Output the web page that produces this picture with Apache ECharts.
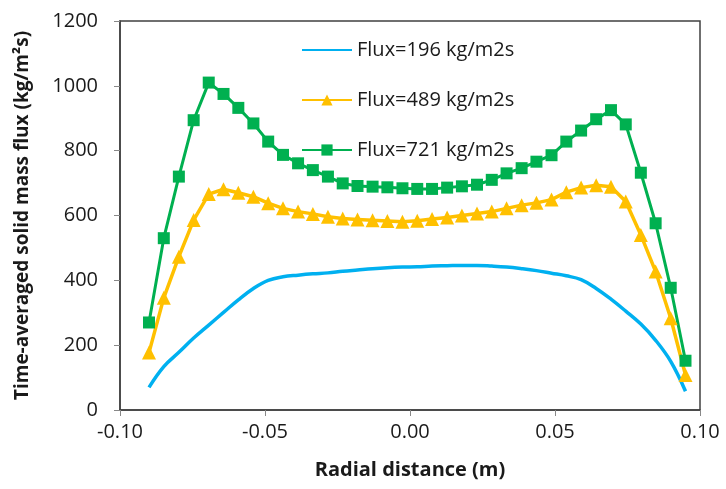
<!DOCTYPE html>
<html>
<head>
<meta charset="utf-8">
<script src="https://cdn.jsdelivr.net/npm/echarts@6/dist/echarts.min.js"></script>
<style>
  html, body { margin: 0; padding: 0; background: #fff; }
  #chart { width: 726px; height: 489px; }
</style>
</head>
<body>
<div id="chart"></div>
<script>
// Radial positions (m) across the riser
const radialPos = [
  -0.0900, -0.0849, -0.0797, -0.0746, -0.0694, -0.0643, -0.0592, -0.0540,
  -0.0489, -0.0438, -0.0386, -0.0335, -0.0283, -0.0232, -0.0181, -0.0129,
  -0.0078, -0.0026, 0.0025, 0.0076, 0.0128, 0.0179, 0.0231, 0.0282,
  0.0333, 0.0385, 0.0436, 0.0488, 0.0539, 0.0590, 0.0642, 0.0693,
  0.0744, 0.0796, 0.0847, 0.0899, 0.0950
];

// Time-averaged solid mass flux (kg/m2s) for each inlet flux
const flux196 = [
  70, 134, 178, 222, 262, 301, 340, 375,
  400, 411, 416, 420, 423, 428, 432, 436,
  439, 441, 442, 444, 445, 446, 446, 444,
  441, 436, 430, 422, 414, 402, 375, 342,
  305, 265, 215, 150, 58
];
const flux489 = [
  177, 346, 473, 586, 666, 681, 670, 658,
  638, 622, 612, 605, 596, 591, 588, 585,
  583, 581, 584, 589, 594, 600, 606, 612,
  622, 632, 639, 649, 672, 686, 693, 689,
  643, 540, 427, 283, 108
];
const flux721 = [
  270, 530, 720, 894, 1010, 975, 932, 884,
  828, 787, 761, 740, 720, 699, 691, 689,
  687, 684, 682, 682, 686, 690, 695, 710,
  730, 746, 766, 786, 828, 862, 897, 925,
  881, 732, 576, 377, 152
];

const seriesNames = ['Flux=196 kg/m2s', 'Flux=489 kg/m2s', 'Flux=721 kg/m2s'];
const yTicks = { min: 0, max: 1200, step: 200 };
const xTicks = { min: -0.10, max: 0.10, step: 0.05 };

const pairs = (ys) => radialPos.map((x, i) => [x, ys[i]]);

const FONT = '"Open Sans", "Noto Sans", sans-serif';
const INK = '#1a1a1a';
const AXIS = '#404040';

const chart = echarts.init(document.getElementById('chart'), null, { renderer: 'canvas' });
chart.setOption({
  animation: false,
  backgroundColor: '#fff',
  textStyle: { fontFamily: FONT },
  grid: { left: 120, right: 26, top: 21, bottom: 79, show: true, borderColor: AXIS, borderWidth: 1.5 },
  legend: {
    orient: 'vertical',
    left: 296,
    top: 33,
    itemWidth: 50,
    itemHeight: 14,
    itemGap: 26,
    textStyle: { fontSize: 20, color: INK, fontFamily: FONT, lineHeight: 24 },
    data: [
      // plain line swatch for the unmarked series
      { name: seriesNames[0], itemStyle: { opacity: 0 } },
      seriesNames[1],
      seriesNames[2]
    ]
  },
  xAxis: {
    type: 'value',
    min: xTicks.min, max: xTicks.max, interval: xTicks.step,
    name: 'Radial distance (m)',
    nameLocation: 'middle',
    nameGap: 50,
    nameTextStyle: { fontSize: 20, fontWeight: 'bold', color: INK, fontFamily: FONT },
    axisLine: { onZero: false, lineStyle: { color: AXIS, width: 1.5 } },
    axisTick: { show: true, length: 6, lineStyle: { color: '#888' } },
    axisLabel: { fontSize: 20, color: INK, margin: 12, formatter: (v) => v.toFixed(2) },
    splitLine: { show: false }
  },
  yAxis: {
    type: 'value',
    min: yTicks.min, max: yTicks.max, interval: yTicks.step,
    name: 'Time-averaged solid mass flux (kg/m²s)',
    nameLocation: 'middle',
    nameGap: 88,
    nameTextStyle: { fontSize: 19, fontWeight: 'bold', color: INK, fontFamily: FONT },
    axisLine: { show: true, onZero: false, lineStyle: { color: AXIS, width: 1.5 } },
    axisTick: { show: true, length: 6, lineStyle: { color: '#888' } },
    axisLabel: { fontSize: 20, color: INK, margin: 22, formatter: (v) => String(v) },
    splitLine: { show: false }
  },
  series: [
    {
      name: seriesNames[0],
      type: 'line',
      data: pairs(flux196),
      smooth: 0.4,
      showSymbol: false,
      symbol: 'none',
      lineStyle: { color: '#00B0F0', width: 3.5 },
      itemStyle: { color: '#00B0F0' }
    },
    {
      name: seriesNames[1],
      type: 'line',
      data: pairs(flux489),
      symbol: 'triangle',
      symbolSize: 14,
      lineStyle: { color: '#FFC000', width: 3.5 },
      itemStyle: { color: '#FFC000' }
    },
    {
      name: seriesNames[2],
      type: 'line',
      data: pairs(flux721),
      symbol: 'rect',
      symbolSize: 12,
      lineStyle: { color: '#00B050', width: 3 },
      itemStyle: { color: '#00B050' }
    }
  ]
});
</script>
</body>
</html>
